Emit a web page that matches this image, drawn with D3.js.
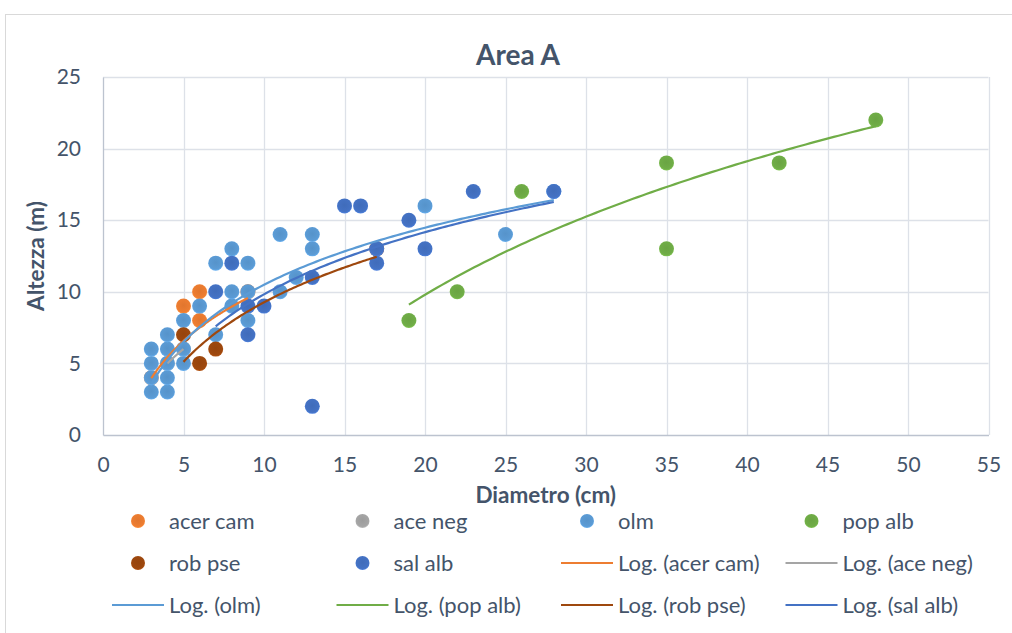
<!DOCTYPE html>
<html>
<head>
<meta charset="utf-8">
<script src="https://cdn.jsdelivr.net/npm/d3@7/dist/d3.min.js"></script>
<style>
  html, body { margin: 0; padding: 0; background: #ffffff; }
  svg { display: block; }
  text { font-family: Lato, "Liberation Sans", sans-serif; }
</style>
</head>
<body>
<svg id="chart" width="1012" height="633"></svg>
<script>
// ---- data (diameter cm, height m) ----
const seriesNames = ["acer cam", "ace neg", "olm", "pop alb", "rob pse", "sal alb"];
const acerCam = [[3,4],[5,9],[6,10],[6,8],[9,10]];
const aceNeg  = [[4,5],[5,6]];
const olm     = [[3,3],[3,4],[3,5],[3,6],[4,3],[4,4],[4,5],[4,6],[4,7],[5,5],[5,6],[5,8],[6,9],
                 [7,7],[7,12],[8,9],[8,10],[8,13],[9,8],[9,10],[9,12],[11,10],[11,14],[12,11],
                 [13,13],[13,14],[20,16],[25,14],[28,17]];
const popAlb  = [[19,8],[22,10],[26,17],[35,19],[35,13],[42,19],[48,22]];
const robPse  = [[5,7],[6,5],[7,6],[17,13]];
const salAlb  = [[7,10],[8,12],[9,9],[9,7],[10,9],[13,11],[13,2],[15,16],[16,16],[17,13],
                 [17,12],[19,15],[20,13],[23,17],[28,17]];
// logarithmic trend lines y = a*ln(x) + b
const trendA = [5.10, 4.48, 5.75, 13.45, 6.00, 6.26];
const trendB = [-1.64, -1.21, -2.75, -30.5, -4.55, -4.59];
const xTicks = [0,5,10,15,20,25,30,35,40,45,50,55];
const yTicks = [0,5,10,15,20,25];
const colors = ["#ED7D31", "#A5A5A5", "#5B9BD5", "#70AD47", "#9E480E", "#4472C4"];

const allSeries = [acerCam, aceNeg, olm, popAlb, robPse, salAlb];

const svg = d3.select("#chart");
const textColor = "#44546A";

// chart border
svg.append("rect").attr("x", 5.5).attr("y", 14.5).attr("width", 1012).attr("height", 630)
  .attr("fill", "#fff").attr("stroke", "#D9D9D9").attr("stroke-width", 1);

const x = d3.scaleLinear().domain([0, 55]).range([103, 988.5]);
const y = d3.scaleLinear().domain([0, 25]).range([435, 77]);

// marker gradients (subtle Excel-like shading)
const defs = svg.append("defs");
colors.forEach((c, i) => {
  const g = defs.append("radialGradient").attr("id", "g" + i)
    .attr("cx", "50%").attr("cy", "45%").attr("r", "55%");
  g.append("stop").attr("offset", "0%").attr("stop-color", d3.color(c).darker(0.15));
  g.append("stop").attr("offset", "80%").attr("stop-color", c);
  g.append("stop").attr("offset", "100%").attr("stop-color", d3.color(c).brighter(0.35));
});

// gridlines
svg.append("g").selectAll("line.v").data(xTicks.slice(1)).join("line")
  .attr("x1", d => Math.round(x(d)) + 0.5).attr("x2", d => Math.round(x(d)) + 0.5)
  .attr("y1", y(0)).attr("y2", y(25))
  .attr("stroke", "#DDE1E8").attr("stroke-width", 1.3);
svg.append("g").selectAll("line.h").data(yTicks.slice(1)).join("line")
  .attr("y1", d => Math.round(y(d)) + 0.5).attr("y2", d => Math.round(y(d)) + 0.5)
  .attr("x1", x(0)).attr("x2", x(55))
  .attr("stroke", "#DDE1E8").attr("stroke-width", 1.3);

// axes
const xAxis = d3.axisBottom(x).tickValues(xTicks).tickSize(0).tickPadding(22);
const gx = svg.append("g").attr("transform", `translate(0,${y(0)})`).call(xAxis);
gx.select(".domain").attr("stroke", "#BCC3CF").attr("stroke-width", 1.3);
gx.selectAll("text").attr("fill", textColor).attr("font-size", 21).attr("font-family", "Lato");

const yAxis = d3.axisLeft(y).tickValues(yTicks).tickSize(0).tickPadding(22);
const gy = svg.append("g").attr("transform", `translate(${x(0)},0)`).call(yAxis);
gy.select(".domain").attr("stroke", "#BCC3CF").attr("stroke-width", 1.3);
gy.selectAll("text").attr("fill", textColor).attr("font-size", 21).attr("font-family", "Lato");

// points
allSeries.forEach((s, i) => {
  svg.append("g").selectAll("circle").data(s).join("circle")
    .attr("cx", d => x(d[0])).attr("cy", d => y(d[1])).attr("r", 7.5)
    .attr("fill", `url(#g${i})`);
});

// trend lines
allSeries.forEach((s, i) => {
  const [x0, x1] = d3.extent(s, d => d[0]);
  const pts = d3.range(0, 101).map(k => {
    const xv = x0 + (x1 - x0) * k / 100;
    return [xv, trendA[i] * Math.log(xv) + trendB[i]];
  });
  svg.append("path").datum(pts)
    .attr("d", d3.line().x(d => x(d[0])).y(d => y(d[1])))
    .attr("fill", "none").attr("stroke", colors[i]).attr("stroke-width", 2.2);
});

// titles
svg.append("text").attr("x", 518).attr("y", 65).attr("text-anchor", "middle")
  .attr("font-size", 28).attr("font-weight", "bold").attr("fill", textColor).text("Area A");
svg.append("text").attr("x", (x(0) + x(55)) / 2).attr("y", 503).attr("text-anchor", "middle")
  .attr("font-size", 22.5).attr("font-weight", "bold").attr("fill", textColor).text("Diametro (cm)");
svg.append("text").attr("transform", `translate(44,${(y(0) + y(25)) / 2}) rotate(-90)`)
  .attr("text-anchor", "middle")
  .attr("font-size", 22.5).attr("font-weight", "bold").attr("fill", textColor).text("Altezza (m)");

// legend
const legendItems = seriesNames.map((n, i) => ({ label: n, type: "marker", color: colors[i], idx: i }))
  .concat(seriesNames.map((n, i) => ({ label: `Log. (${n})`, type: "line", color: colors[i], idx: i })));
const colX = [112, 336.5, 561, 785.5];
const rowY = [521, 563, 605];
const lg = svg.append("g");
legendItems.forEach((it, k) => {
  const cx = colX[k % 4], cy = rowY[Math.floor(k / 4)];
  if (it.type === "marker") {
    lg.append("circle").attr("cx", cx + 26).attr("cy", cy).attr("r", 7).attr("fill", `url(#g${it.idx})`);
  } else {
    lg.append("line").attr("x1", cx).attr("x2", cx + 52).attr("y1", cy).attr("y2", cy)
      .attr("stroke", it.color).attr("stroke-width", 2.2);
  }
  lg.append("text").attr("x", cx + 57).attr("y", cy).attr("dy", "0.35em")
    .attr("font-size", 22).attr("fill", textColor).text(it.label);
});
</script>
</body>
</html>
